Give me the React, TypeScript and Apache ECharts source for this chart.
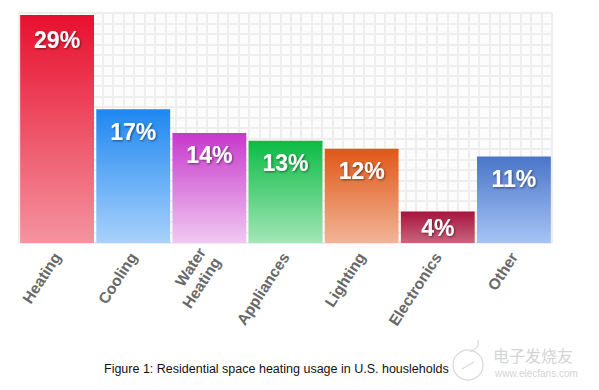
import React, { useEffect, useRef } from "react";
import * as echarts from "echarts";

const categories = ["Heating", "Cooling", "Water\nHeating", "Appliances", "Lighting", "Electronics", "Other"];
const values = [29, 17, 14, 13, 12, 4, 11];
const topColors = ["#e8102e", "#1e87f0", "#c738cc", "#0bbb44", "#e05717", "#a8133c", "#4a76c8"];
const bottomColors = ["#f4939f", "#a9d1fb", "#f1c9f1", "#a3e6b7", "#f2b597", "#c9657e", "#a6c3f6"];
const caption = "Figure 1: Residential space heating usage in U.S. housleholds";

export default function App() {
  const ref = useRef<HTMLDivElement>(null);
  useEffect(() => {
    document.body.style.margin = "0";
    const chart = echarts.init(ref.current!, undefined, { renderer: "svg" });
    const data = values.map((v, i) => ({
      value: v,
      itemStyle: {
        color: new echarts.graphic.LinearGradient(0, 0, 0, 1, [
          { offset: 0, color: topColors[i] },
          { offset: 1, color: bottomColors[i] },
        ]),
      },
      label: { distance: i === 0 ? 14 : i === 5 ? 5 : 11 },
    }));
    chart.setOption({
      animation: false,
      backgroundColor: "#ffffff",
      grid: { left: 19, right: 47, top: 13, bottom: 147, backgroundColor: "#fcfcfc", show: true, borderWidth: 0 },
      xAxis: [
        {
          type: "category",
          data: categories,
          axisLine: { show: false },
          axisTick: { show: false },
          axisLabel: {
            rotate: 57,
            margin: 11,
            fontFamily: "Liberation Sans, Arial, sans-serif",
            fontWeight: "bold",
            fontSize: 15.5,
            color: "#686868",
            interval: 0,
            lineHeight: 18,
          },
        },
        {
          type: "value",
          min: 0,
          max: 51,
          interval: 1,
          show: true,
          position: "top",
          axisLine: { show: false },
          axisTick: { show: false },
          axisLabel: { show: false },
          splitLine: { show: true, lineStyle: { color: "#eeeeee", width: 2 } },
        },
      ],
      yAxis: [
        {
          type: "value",
          min: 0,
          max: 29.25,
          show: false,
          splitLine: { show: false },
        },
        {
          type: "value",
          min: 0,
          max: 22,
          interval: 1,
          position: "right",
          axisLine: { show: false },
          axisTick: { show: false },
          axisLabel: { show: false },
          splitLine: { show: true, lineStyle: { color: "#eeeeee", width: 2 } },
        },
      ],
      series: [
        {
          type: "bar",
          xAxisIndex: 0,
          yAxisIndex: 0,
          data,
          barCategoryGap: "3%",
          label: {
            show: true,
            position: "insideTop",
            formatter: "{c}%",
            color: "#ffffff",
            fontFamily: "Liberation Sans, Arial, sans-serif",
            fontWeight: "bold",
            fontSize: 23,
            textShadowColor: "rgba(0,0,0,0.5)",
            textShadowBlur: 2,
            textShadowOffsetX: 1,
            textShadowOffsetY: 1,
          },
        },
      ],
      graphic: [
        {
          type: "text",
          left: 104,
          top: 362,
          style: {
            text: caption,
            fontFamily: "Liberation Sans, Arial, sans-serif",
            fontSize: 12.5,
            fill: "#111111",
          },
        },
        {
          type: "circle",
          shape: { cx: 468, cy: 365, r: 15 },
          style: { fill: "rgba(255,255,255,0.75)", stroke: "#d8d8d8", lineWidth: 1.2 },
        },
        {
          type: "bezierCurve",
          shape: { x1: 470, y1: 352, x2: 478, y2: 340, cpx1: 480, cpy1: 348 },
          style: { stroke: "#d8d8d8", lineWidth: 1.2, fill: null },
        },
        {
          type: "line",
          shape: { x1: 462, y1: 369, x2: 474, y2: 362 },
          style: { stroke: "#d8d8d8", lineWidth: 1.2 },
        },
        {
          type: "text",
          left: 493,
          top: 347,
          style: {
            text: "电子发烧友",
            fontFamily: "Noto Sans CJK SC",
            fontSize: 16,
            fill: "#d4d4d4",
          },
        },
        {
          type: "text",
          left: 495,
          top: 368,
          style: {
            text: "www.elecfans.com",
            fontFamily: "Liberation Sans, Arial, sans-serif",
            fontSize: 10,
            fill: "#d4d4d4",
          },
        },
      ],
    });
    return () => chart.dispose();
  }, []);
  return <div ref={ref} style={{ width: 599, height: 390 }} />;
}
